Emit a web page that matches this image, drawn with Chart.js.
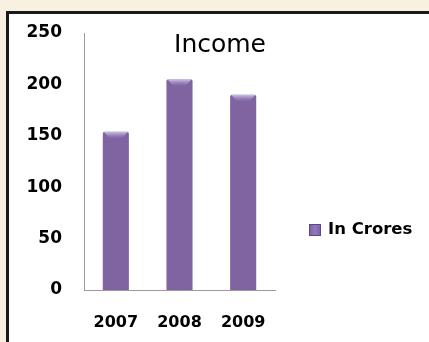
<!DOCTYPE html>
<html>
<head>
<meta charset="utf-8">
<script src="https://cdn.jsdelivr.net/npm/chart.js@4/dist/chart.umd.min.js"></script>
<style>
  html, body { margin: 0; padding: 0; background: #f8f1e2; }
  #wrap { width: 429px; height: 342px; position: relative; }
</style>
</head>
<body>
<div id="wrap"><canvas id="c" width="429" height="342"></canvas></div>
<script>
const categories = ['2007', '2008', '2009'];
const incomeValues = [154, 205, 190];
const seriesName = 'In Crores';
const chartTitle = 'Income';
const yTicks = [0, 50, 100, 150, 200, 250];

function barGradient(ctx, x0, x1) {
  const g = ctx.createLinearGradient(x0, 0, x1, 0);
  g.addColorStop(0, '#6c5296');
  g.addColorStop(0.12, '#8065aa');
  g.addColorStop(0.5, '#9079bb');
  g.addColorStop(0.88, '#8065aa');
  g.addColorStop(1, '#6c5296');
  return g;
}

const decor = {
  id: 'decor',
  beforeDraw(chart) {
    const ctx = chart.ctx;
    ctx.save();
    ctx.fillStyle = '#f8f1e2';
    ctx.fillRect(0, 0, chart.width, chart.height);
    ctx.fillStyle = '#ffffff';
    ctx.fillRect(7, 12, chart.width, chart.height);
    ctx.strokeStyle = '#1a1a1a';
    ctx.lineWidth = 3;
    ctx.beginPath();
    ctx.moveTo(7.5, chart.height + 5);
    ctx.lineTo(7.5, 12.5);
    ctx.lineTo(chart.width + 5, 12.5);
    ctx.stroke();
    ctx.restore();
  },
  afterDatasetsDraw(chart) {
    // glossy bevel highlight on top of each bar
    const ctx = chart.ctx;
    const meta = chart.getDatasetMeta(0);
    ctx.save();
    meta.data.forEach(bar => {
      const x0 = bar.x - bar.width / 2, x1 = bar.x + bar.width / 2, t = bar.y;
      const g = ctx.createLinearGradient(0, t, 0, t + 7);
      g.addColorStop(0, 'rgba(225,215,240,0.85)');
      g.addColorStop(1, 'rgba(160,140,200,0.0)');
      ctx.fillStyle = g;
      ctx.beginPath();
      ctx.moveTo(x0 + 1, t);
      ctx.lineTo(x1 - 1, t);
      ctx.lineTo(x1 - 7, t + 7);
      ctx.lineTo(x0 + 7, t + 7);
      ctx.closePath();
      ctx.fill();
    });
    ctx.restore();
  },
  afterDraw(chart) {
    const ctx = chart.ctx;
    const area = chart.chartArea;
    ctx.save();
    // title
    ctx.fillStyle = '#000';
    ctx.font = '25px "DejaVu Sans"';
    ctx.textAlign = 'center';
    ctx.textBaseline = 'middle';
    ctx.fillText(chartTitle, 220, 45);
    // legend
    const bx = area.right + 34, by = 224;
    ctx.fillStyle = barGradient(ctx, bx, bx + 12);
    ctx.fillRect(bx, by, 12, 12);
    ctx.strokeStyle = '#5e4786';
    ctx.lineWidth = 1;
    ctx.strokeRect(bx + 0.5, by + 0.5, 11, 11);
    ctx.fillStyle = '#000';
    ctx.font = 'bold 16.5px "DejaVu Sans"';
    ctx.textAlign = 'left';
    ctx.fillText(seriesName, bx + 19, by + 6);
    ctx.restore();
  }
};

function barFill(context) {
  const chart = context.chart;
  const el = context.element;
  if (!el || el.x === undefined || !chart.chartArea) return '#8064a2';
  const w = el.width || 26;
  return barGradient(chart.ctx, el.x - w / 2, el.x + w / 2);
}

new Chart(document.getElementById('c'), {
  type: 'bar',
  data: {
    labels: categories,
    datasets: [{
      label: seriesName,
      data: incomeValues,
      backgroundColor: barFill,
      borderWidth: 0,
      borderRadius: { topLeft: 2, topRight: 2 },
      borderSkipped: 'bottom',
      barPercentage: 0.41,
      categoryPercentage: 1.0
    }]
  },
  options: {
    responsive: false,
    animation: false,
    devicePixelRatio: 1,
    layout: { padding: { left: 27, right: 154, top: 33, bottom: 0 } },
    plugins: {
      title: { display: false },
      tooltip: { enabled: false },
      legend: { display: false }
    },
    scales: {
      x: {
        grid: { display: false, drawTicks: false },
        border: { display: true, color: '#9a9a9a', width: 1 },
        ticks: { color: '#000', padding: 23, font: { family: 'DejaVu Sans', size: 16, weight: 'bold' } },
        afterFit(scale) { scale.height = 52; }
      },
      y: {
        min: 0,
        max: 250,
        afterBuildTicks(axis) { axis.ticks = yTicks.map(v => ({ value: v })); },
        grid: { display: false, drawTicks: false },
        border: { display: true, color: '#9a9a9a', width: 1 },
        ticks: { color: '#000', padding: 22, font: { family: 'DejaVu Sans', size: 17, weight: 'bold' } },
        afterFit(scale) { scale.width = 57; }
      }
    }
  },
  plugins: [decor]
});
</script>
</body>
</html>
